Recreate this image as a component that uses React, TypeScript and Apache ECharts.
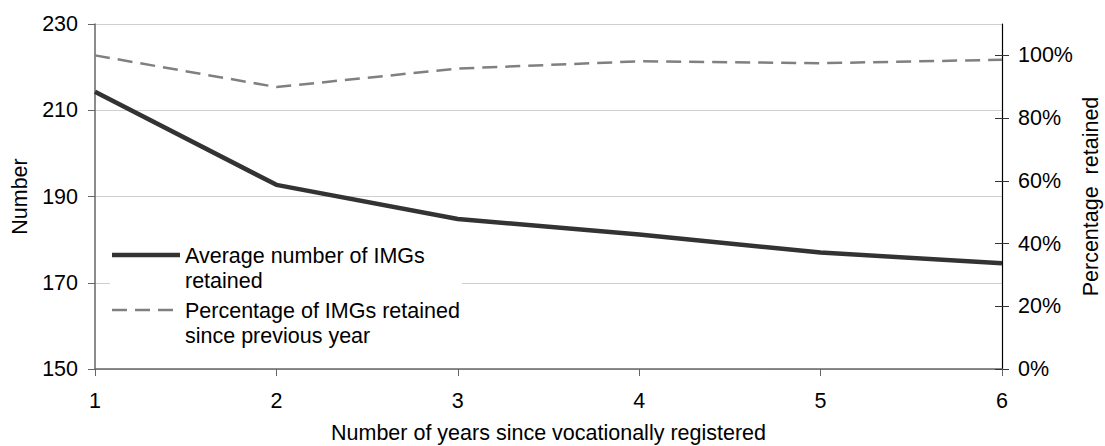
import React, { useEffect, useRef } from "react";
import * as echarts from "echarts";

const years = ["1", "2", "3", "4", "5", "6"];
const avgRetained = [214.3, 192.7, 184.8, 181.2, 177.0, 174.5];
const pctRetained = [100, 89.9, 95.8, 98.1, 97.5, 98.6];
const leftTicks = [150, 170, 190, 210, 230];
const rightTicks = [0, 20, 40, 60, 80, 100];
const legendLabels = [
  "Average number of IMGs\nretained",
  "Percentage of IMGs retained\nsince previous year",
];

const FONT = "'Liberation Sans', Arial, sans-serif";
const FS = 21.5;

export default function App() {
  const ref = useRef<HTMLDivElement>(null);
  useEffect(() => {
    document.body.style.margin = "0";
    const chart = echarts.init(ref.current!, null, { renderer: "svg" });
    chart.setOption({
      animation: false,
      backgroundColor: "#ffffff",
      textStyle: { fontFamily: FONT },
      grid: {
        left: 95,
        right: 103,
        top: 24,
        bottom: 77,
        containLabel: false,
        outerBoundsMode: "none",
      },
      xAxis: {
        type: "category",
        data: years,
        boundaryGap: false,
        name: "Number of years since vocationally registered",
        nameLocation: "middle",
        nameGap: 53,
        nameTextStyle: { fontSize: FS, color: "#000", fontFamily: FONT },
        axisLine: { lineStyle: { color: "#666", width: 1.5 } },
        axisTick: { alignWithLabel: true, length: 7, lineStyle: { color: "#666" } },
        axisLabel: { fontSize: FS, color: "#000", margin: 21, fontFamily: FONT },
        splitLine: { show: false },
      },
      yAxis: [
        {
          type: "value",
          min: leftTicks[0],
          max: leftTicks[leftTicks.length - 1],
          interval: 20,
          position: "left",
          name: "Number",
          nameLocation: "middle",
          nameRotate: 90,
          nameGap: 61,
          nameTextStyle: { fontSize: FS, color: "#000", fontFamily: FONT },
          axisLine: { show: true, lineStyle: { color: "#666", width: 1.5 } },
          axisTick: { show: true, length: 7, lineStyle: { color: "#666" } },
          axisLabel: { fontSize: FS, color: "#000", margin: 17, fontFamily: FONT },
          splitLine: { show: true, lineStyle: { color: "#cfcfcf", width: 1.2 } },
        },
        {
          type: "value",
          min: 0,
          max: 110,
          position: "right",
          name: "Percentage  retained",
          nameLocation: "middle",
          nameRotate: 90,
          nameGap: 78,
          nameMoveOverlap: false,
          nameTextStyle: { fontSize: FS, color: "#000", fontFamily: FONT, lineHeight: 22 },
          axisLine: { show: true, lineStyle: { color: "#000", width: 1.2 } },
          axisTick: {
            show: true,
            length: 7,
            customValues: rightTicks,
            lineStyle: { color: "#333" },
          },
          axisLabel: {
            fontSize: FS,
            color: "#000",
            margin: 16,
            fontFamily: FONT,
            customValues: rightTicks,
            formatter: (v: number) => v + "%",
          },
          splitLine: { show: false },
        },
        {
          type: "value",
          min: 0,
          max: 110,
          position: "right",
          axisLine: { show: false },
          axisTick: {
            show: true,
            inside: true,
            length: 7,
            customValues: rightTicks,
            lineStyle: { color: "#333" },
          },
          axisLabel: { show: false },
          splitLine: { show: false },
        },
      ],
      series: [
        {
          name: legendLabels[0],
          type: "line",
          yAxisIndex: 0,
          data: avgRetained,
          showSymbol: false,
          symbol: "none",
          lineStyle: { color: "#333333", width: 4.5 },
          z: 3,
        },
        {
          name: legendLabels[1],
          type: "line",
          yAxisIndex: 1,
          data: pctRetained,
          showSymbol: false,
          symbol: "none",
          lineStyle: { color: "#808080", width: 2.5, type: [15, 8] },
          z: 2,
        },
      ],
      graphic: [
        {
          type: "rect",
          shape: { x: 110, y: 232, width: 352, height: 112 },
          style: { fill: "#ffffff" },
          z: 10,
        },
        {
          type: "line",
          shape: { x1: 112, y1: 255, x2: 180, y2: 255 },
          style: { stroke: "#333333", lineWidth: 4.5 },
          z: 11,
        },
        {
          type: "text",
          x: 185,
          y: 243,
          style: {
            text: legendLabels[0],
            fontSize: FS,
            fontFamily: FONT,
            fill: "#000",
            lineHeight: 25,
          },
          z: 11,
        },
        {
          type: "line",
          shape: { x1: 112, y1: 310, x2: 180, y2: 310 },
          style: { stroke: "#808080", lineWidth: 2.5, lineDash: [15, 8] },
          z: 11,
        },
        {
          type: "text",
          x: 185,
          y: 298,
          style: {
            text: legendLabels[1],
            fontSize: FS,
            fontFamily: FONT,
            fill: "#000",
            lineHeight: 25,
          },
          z: 11,
        },
      ],
    });
    return () => chart.dispose();
  }, []);
  return <div ref={ref} style={{ width: 1105, height: 446 }} />;
}
